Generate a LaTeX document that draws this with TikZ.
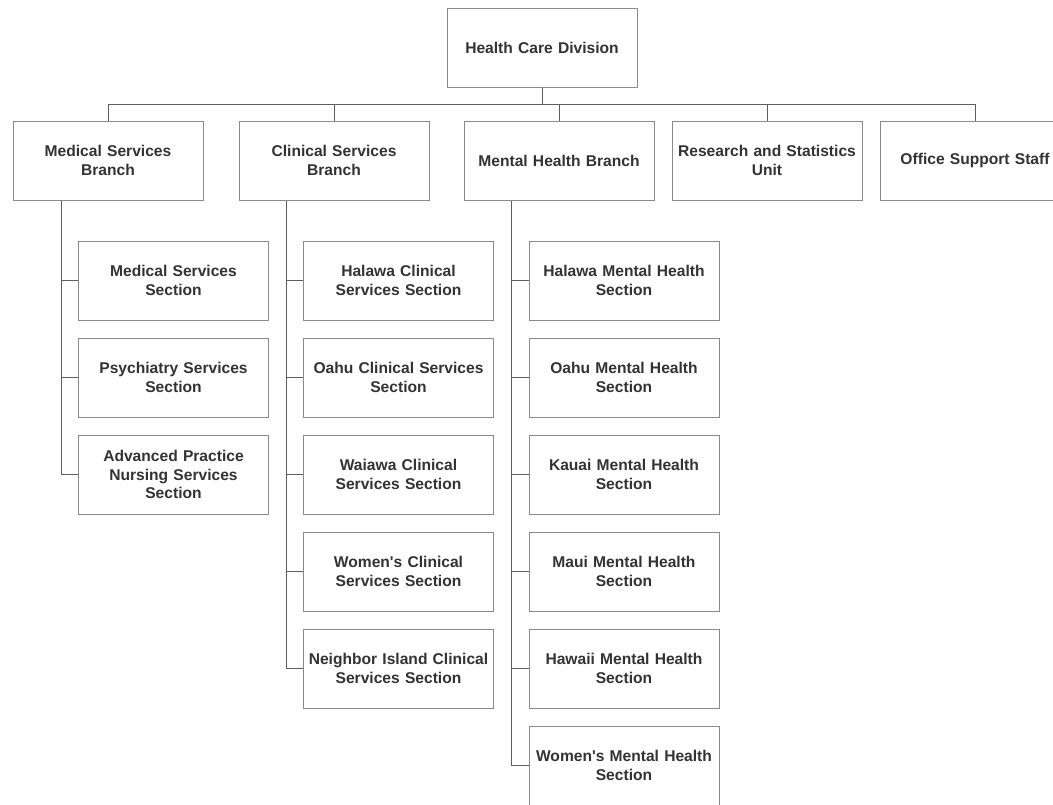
\documentclass[tikz,border=0pt]{standalone}
\usepackage{fontspec}
\setmainfont{Liberation Sans}
\definecolor{txt}{HTML}{333333}
\definecolor{boxline}{HTML}{8A8A8A}
\definecolor{conn}{HTML}{5E5E5E}
\begin{document}
\begin{tikzpicture}[x=1pt,y=-1pt,
  box/.style={draw=boxline,line width=1pt,fill=white,rectangle,align=center,
    text=txt,font=\fontsize{15.6}{18.2}\selectfont\bfseries,inner sep=2pt,
    text width=184pt,minimum width=190pt,minimum height=79pt},
  link/.style={draw=conn,line width=1pt}]
\useasboundingbox (0,0) rectangle (1053,804);
\clip (0,0) rectangle (1053,804);

\node[box] (top) at (542,47.5) {Health Care Division};

\node[box] (mb) at (108,160.5) {Medical Services\\Branch};
\node[box] (cb) at (334,160.5) {Clinical Services\\Branch};
\node[box] (hb) at (559,160.5) {Mental Health Branch};
\node[box] (rs) at (767,160.5) {Research and Statistics\\Unit};
\node[box] (os) at (975,160.5) {Office Support Staff};

\coordinate (bus) at (542,104);
\draw[link] (top.south) -- (bus);
\foreach \b in {mb,cb,hb,rs,os} \draw[link] (\b.north) |- (bus);

% Medical sections
\node[box] (m1) at (173.5,280.5) {Medical Services\\Section};
\node[box] (m2) at (173.5,377.5) {Psychiatry Services\\Section};
\node[box] (m3) at (173.5,474.5) {Advanced Practice\\Nursing Services\\Section};

% Clinical sections
\node[box] (c1) at (398.5,280.5) {Halawa Clinical\\Services Section};
\node[box] (c2) at (398.5,377.5) {Oahu Clinical Services\\Section};
\node[box] (c3) at (398.5,474.5) {Waiawa Clinical\\Services Section};
\node[box] (c4) at (398.5,571.5) {Women\textquotesingle s Clinical\\Services Section};
\node[box] (c5) at (398.5,668.5) {Neighbor Island Clinical\\Services Section};

% Mental health sections
\node[box] (h1) at (624,280.5) {Halawa Mental Health\\Section};
\node[box] (h2) at (624,377.5) {Oahu Mental Health\\Section};
\node[box] (h3) at (624,474.5) {Kauai Mental Health\\Section};
\node[box] (h4) at (624,571.5) {Maui Mental Health\\Section};
\node[box] (h5) at (624,668.5) {Hawaii Mental Health\\Section};
\node[box] (h6) at (624,765.5) {Women\textquotesingle s Mental Health\\Section};

% trunks
\coordinate (mt) at ([xshift=-47pt]mb.south);
\coordinate (ct) at ([xshift=-48pt]cb.south);
\coordinate (ht) at ([xshift=-48pt]hb.south);

\draw[link] (mt) |- (m3.west);
\foreach \s in {m1,m2} \draw[link] (mt |- \s.west) -- (\s.west);

\draw[link] (ct) |- (c5.west);
\foreach \s in {c1,c2,c3,c4} \draw[link] (ct |- \s.west) -- (\s.west);

\draw[link] (ht) |- (h6.west);
\foreach \s in {h1,h2,h3,h4,h5} \draw[link] (ht |- \s.west) -- (\s.west);
\end{tikzpicture}
\end{document}
